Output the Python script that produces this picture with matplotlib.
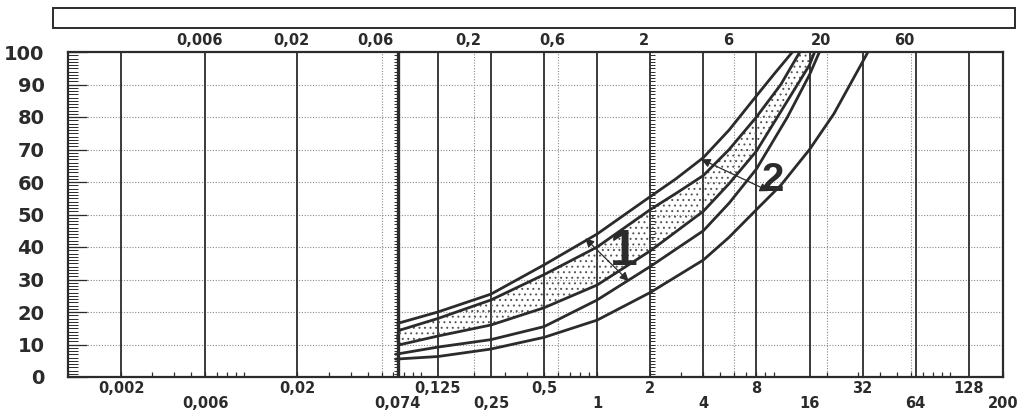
import numpy as np
import matplotlib
matplotlib.use("Agg")
import matplotlib.pyplot as plt
from matplotlib.patches import Rectangle
from matplotlib.transforms import blended_transform_factory, ScaledTranslation

INK = "#2b2b2b"
GRID = "#8a8a8a"
plt.rcParams["font.family"] = ["DejaVu Sans"]
plt.rcParams["hatch.linewidth"] = 0.7

# grading curves (grain size mm, % passing)
C1_D = [0.074, 0.125, 0.25, 0.5, 1, 2, 2.8, 4, 5.6, 8, 10, 12.8]
C1_P = [16.5, 20, 25.5, 34.5, 44, 55.5, 61, 67.5, 76, 86.5, 93, 100]
C2_D = [0.077, 0.125, 0.25, 0.5, 1, 2, 2.8, 4, 5.6, 8, 11, 14.1]
C2_P = [14.5, 18, 23.7, 31.5, 40, 51.5, 56.5, 62, 70, 80, 90, 100]
C3_D = [0.077, 0.125, 0.25, 0.5, 1, 2, 4, 5.6, 8, 12, 16, 17.1]
C3_P = [10, 12.6, 16, 21.3, 28.3, 38.8, 51, 59.5, 69.5, 85, 96, 100]
C4_D = [0.072, 0.125, 0.25, 0.5, 1, 2, 4, 5.6, 8, 12, 16, 18.2]
C4_P = [7, 9.2, 11.5, 15.5, 23.7, 34, 45, 53.5, 64, 80, 93, 100]
C5_D = [0.072, 0.125, 0.25, 0.5, 1, 2, 4, 5.6, 8, 11, 16, 22, 32, 34.3]
C5_P = [5.5, 6.3, 8.6, 12.2, 17.5, 26, 36, 43, 51.5, 59, 70, 81, 97, 100]
# rounded left end of the dotted band
CAP_D = [0.077, 0.0745, 0.0737, 0.0745, 0.077]
CAP_P = [10, 10.8, 12.2, 13.7, 14.5]

# zone arrows: (tail, head) and zone labels
ARROW1 = ((0.855, 42.7), (1.51, 29.5))
ARROW2 = ((3.9, 67.0), (9.4, 57.2))
LABEL1 = (1.42, 38.5)
LABEL2 = (9.9, 60.5)

SOLID_X = [0.002, 0.006, 0.02, 0.125, 0.25, 0.5, 1, 2, 4, 8, 16, 32, 64, 128]
DOTTED_X = [0.06, 0.2, 0.6, 6, 20, 60]
ROW1_X = [0.002, 0.02, 0.125, 0.5, 2, 8, 32, 128]
ROW1_L = ["0,002", "0,02", "0,125", "0,5", "2", "8", "32", "128"]
ROW2_X = [0.006, 0.074, 0.25, 1, 4, 16, 64, 200]
ROW2_L = ["0,006", "0,074", "0,25", "1", "4", "16", "64", "200"]
TOP_X = [0.006, 0.02, 0.06, 0.2, 0.6, 2, 6, 20, 60]
TOP_L = ["0,006", "0,02", "0,06", "0,2", "0,6", "2", "6", "20", "60"]
HEAD_X = [0.0014, 0.0022, 0.0057, 0.25, 5.8, 106]
HEAD_L = ["GEO", ":", "SILTTI", "HIEKKA", "SORA", "KIVET"]
Y_TICKS = list(range(0, 101, 10))

fig = plt.figure(figsize=(10.23, 4.12), dpi=100)
ax = fig.add_axes([68 / 1023, 35 / 412, 935 / 1023, 325 / 412])
ax.set_xscale("log")
ax.set_xlim(0.001, 200)
ax.set_ylim(0, 100)

# grid
for p in Y_TICKS[1:-1]:
    ax.axhline(p, color=GRID, lw=0.8, ls=(0, (1, 1.5)), zorder=1)
for d in DOTTED_X:
    ax.axvline(d, color=GRID, lw=0.8, ls=(0, (1, 1.5)), zorder=1)
for d in SOLID_X:
    ax.axvline(d, color=INK, lw=1.3, zorder=2)
ax.axvline(0.074, color=INK, lw=2.4, zorder=2)

# small scale ticks on the 0.074 and 2 lines
pc = np.arange(0, 101)
ax.hlines(pc, 0.074 * 10 ** (-4 / 176), 0.074, color=INK, lw=0.7, zorder=2)
ax.hlines(pc, 2, 2 * 10 ** (5 / 176), color=INK, lw=0.7, zorder=2)

# dotted band between curves 2 and 3
band_d = C2_D + C3_D[::-1] + CAP_D
band_p = C2_P + C3_P[::-1] + CAP_P
ax.fill(band_d, band_p, facecolor="none", edgecolor="#555555", lw=0,
        hatch="...", zorder=3)
ax.plot(CAP_D, CAP_P, color=INK, lw=1.6, zorder=4)

for d, p in [(C1_D, C1_P), (C2_D, C2_P), (C3_D, C3_P), (C4_D, C4_P), (C5_D, C5_P)]:
    ax.plot(d, p, color=INK, lw=2.0, solid_capstyle="round",
            solid_joinstyle="round", zorder=4)

for tail, head in (ARROW1, ARROW2):
    ax.annotate("", xy=head, xytext=tail,
                arrowprops=dict(arrowstyle="<|-|>", color=INK, lw=0.9,
                                mutation_scale=13, shrinkA=0, shrinkB=0),
                zorder=5)
ax.text(*LABEL1, "1", fontsize=36, fontweight="bold", family="Liberation Sans",
        color=INK, ha="center", va="center", zorder=6)
ax.text(*LABEL2, "2", fontsize=29, fontweight="bold", family="Liberation Sans",
        color=INK, ha="center", va="center", zorder=6)

# axes frame and ticks
for s in ax.spines.values():
    s.set_color(INK)
    s.set_linewidth(1.6)
ax.set_yticks(Y_TICKS)
ax.set_yticks(pc, minor=True)
ax.set_yticklabels([str(v) for v in Y_TICKS], fontsize=14, fontweight="bold", color=INK)
ax.tick_params(axis="y", which="major", direction="in", length=14, width=0.9,
               color=INK, pad=17)
ax.tick_params(axis="y", which="minor", direction="in", length=7, width=0.7, color=INK)
ax.xaxis.set_major_locator(matplotlib.ticker.LogLocator(base=10, subs=np.arange(1, 10)))
ax.xaxis.set_minor_locator(matplotlib.ticker.NullLocator())
ax.xaxis.set_major_formatter(matplotlib.ticker.NullFormatter())
ax.tick_params(axis="x", which="major", direction="in", length=3.5, width=0.9, color=INK)

tr = blended_transform_factory(ax.transData, ax.transAxes)
for d, lab in zip(ROW1_X, ROW1_L):
    ax.text(d, -0.034, lab, transform=tr, ha="center", va="center", fontsize=10.5,
            fontweight="bold", color=INK)
for d, lab in zip(ROW2_X, ROW2_L):
    ax.text(d, -0.082, lab, transform=tr, ha="center", va="center", fontsize=10.5,
            fontweight="bold", color=INK)
tr_top = tr + ScaledTranslation(-0.06, 0, fig.dpi_scale_trans)
for d, lab in zip(TOP_X, TOP_L):
    ax.text(d, 1.036, lab, transform=tr_top, ha="center", va="center", fontsize=10.5,
            fontweight="bold", color=INK)

# header strip with soil classes
fig.patches.append(Rectangle((53 / 1023, 1 - 28 / 412), 962 / 1023, 20 / 412,
                             transform=fig.transFigure, facecolor="white",
                             edgecolor=INK, lw=1.4))
trh = blended_transform_factory(ax.transData, fig.transFigure)
for d, lab in zip(HEAD_X, HEAD_L):
    ax.text(d, 1 - 18 / 412, lab, transform=trh, ha="center", va="center",
            fontsize=10.5, fontweight="bold", color=INK, clip_on=False)

fig.savefig("out.png", dpi=100, facecolor="white")
